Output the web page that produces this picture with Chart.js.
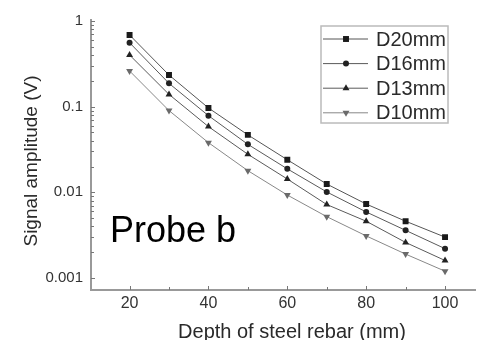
<!DOCTYPE html>
<html>
<head>
<meta charset="utf-8">
<script src="https://cdn.jsdelivr.net/npm/chart.js@4/dist/chart.umd.min.js"></script>
<style>
  html, body { margin: 0; padding: 0; background: #fff; }
  #wrap { width: 480px; height: 340px; position: relative; }
</style>
</head>
<body>
<div id="wrap"><canvas id="chart"></canvas></div>
<script>
const depths = [20, 30, 40, 50, 60, 70, 80, 90, 100];
const d20 = [0.687, 0.234, 0.0966, 0.0468, 0.024, 0.0125, 0.0073, 0.0046, 0.0030];
const d16 = [0.558, 0.187, 0.0785, 0.0363, 0.0188, 0.0101, 0.0059, 0.0036, 0.0022];
const d13 = [0.401, 0.139, 0.0585, 0.0278, 0.0143, 0.0072, 0.0046, 0.0026, 0.0016];
const d10 = [0.261, 0.090, 0.038, 0.0179, 0.0093, 0.0052, 0.0031, 0.0019, 0.0012];
const seriesNames = ['D20mm', 'D16mm', 'D13mm', 'D10mm'];
const xTicks = [20, 40, 60, 80, 100];
const xMinorTicks = [30, 50, 70, 90];
const yTicks = [1, 0.1, 0.01, 0.001];
const yTickLabels = ['1', '0.1', '0.01', '0.001'];

const FONT = '"Liberation Sans", Arial, sans-serif';

function pairs(vals) {
  return depths.map((d, i) => ({ x: d, y: vals[i] }));
}

function makeSet(label, vals, lineColor, markColor, style, radius, rotation) {
  return {
    label: label,
    data: pairs(vals),
    borderColor: lineColor,
    borderWidth: 1,
    backgroundColor: markColor,
    pointBackgroundColor: markColor,
    pointBorderColor: markColor,
    pointBorderWidth: 0,
    pointStyle: style,
    pointRadius: radius,
    pointRotation: rotation || 0,
    tension: 0,
  };
}

// inward ticks, titles, legend box and the probe label
const decorations = {
  id: 'decorations',
  afterDraw(chart) {
    const ctx = chart.ctx;
    const xs = chart.scales.x;
    const ys = chart.scales.y;
    const area = chart.chartArea;
    ctx.save();

    ctx.strokeStyle = '#777';
    ctx.lineWidth = 1;
    ctx.beginPath();
    xTicks.forEach(v => {
      const px = Math.round(xs.getPixelForValue(v)) + 0.5;
      ctx.moveTo(px, area.bottom);
      ctx.lineTo(px, area.bottom - 4);
    });
    xMinorTicks.forEach(v => {
      const px = Math.round(xs.getPixelForValue(v)) + 0.5;
      ctx.moveTo(px, area.bottom);
      ctx.lineTo(px, area.bottom - 3);
    });
    for (let dec = 0.001; dec < 1.5; dec *= 10) {
      for (let m = 1; m <= 9; m++) {
        const v = dec * m;
        if (v < ys.min || v > ys.max) continue;
        const py = Math.round(ys.getPixelForValue(v)) + 0.5;
        ctx.moveTo(area.left, py);
        ctx.lineTo(area.left + (m === 1 ? 4 : 3), py);
      }
    }
    ctx.stroke();

    ctx.fillStyle = '#2a2a2a';
    ctx.font = '20px ' + FONT;
    ctx.textAlign = 'center';
    ctx.textBaseline = 'alphabetic';
    ctx.fillText('Depth of steel rebar (mm)', 292, 338);

    ctx.save();
    ctx.translate(37, 161);
    ctx.rotate(-Math.PI / 2);
    ctx.font = '19px ' + FONT;
    ctx.fillText('Signal amplitude (V)', 0, 0);
    ctx.restore();

    ctx.fillStyle = '#000';
    ctx.font = '36px ' + FONT;
    ctx.textAlign = 'left';
    ctx.fillText('Probe b', 110, 242);

    // legend
    ctx.strokeStyle = '#bbb';
    ctx.lineWidth = 1.5;
    ctx.strokeRect(321, 26, 127, 97);
    chart.data.datasets.forEach((ds, i) => {
      const y = 39 + i * 24.6;
      ctx.strokeStyle = ds.borderColor;
      ctx.lineWidth = 1;
      ctx.beginPath();
      ctx.moveTo(323, y);
      ctx.lineTo(368, y);
      ctx.stroke();
      ctx.fillStyle = ds.pointBackgroundColor;
      Chart.helpers.drawPoint(ctx, {
        pointStyle: ds.pointStyle,
        radius: ds.pointRadius,
        rotation: ds.pointRotation,
        borderWidth: 0,
      }, 346, y);
      ctx.fillStyle = '#2a2a2a';
      ctx.font = '20px ' + FONT;
      ctx.textBaseline = 'middle';
      ctx.fillText(seriesNames[i], 376, y + 1);
      ctx.textBaseline = 'alphabetic';
    });

    ctx.restore();
  },
};

const ctx = document.getElementById('chart').getContext('2d');
const chart = new Chart(ctx, {
  type: 'line',
  data: {
    datasets: [
      makeSet(seriesNames[0], d20, '#555555', '#1a1a1a', 'rect', 4.2),
      makeSet(seriesNames[1], d16, '#5a5a5a', '#222222', 'circle', 3),
      makeSet(seriesNames[2], d13, '#5a5a5a', '#222222', 'triangle', 4),
      makeSet(seriesNames[3], d10, '#888888', '#6a6a6a', 'triangle', 4, 180),
    ],
  },
  options: {
    responsive: true,
    maintainAspectRatio: false,
    animation: false,
    devicePixelRatio: 1,
    layout: { padding: { top: 20, right: 0, left: 0, bottom: 0 } },
    plugins: {
      legend: { display: false },
      tooltip: { enabled: false },
    },
    scales: {
      x: {
        type: 'linear',
        min: 10.22,
        max: 107.8,
        grid: { display: false, drawTicks: false },
        border: { display: true, color: '#999', width: 2 },
        afterBuildTicks: scale => {
          scale.ticks = xTicks.map(v => ({ value: v }));
        },
        afterFit: scale => {
          scale.height = 50;
        },
        ticks: {
          padding: 4,
          color: '#333',
          font: { size: 16, family: FONT },
          maxRotation: 0,
          callback: v => String(v),
        },
      },
      y: {
        type: 'logarithmic',
        min: 0.000724,
        max: 1.027,
        grid: { display: false, drawTicks: false },
        border: { display: true, color: '#999', width: 2 },
        afterBuildTicks: scale => {
          scale.ticks = yTicks.map(v => ({ value: v }));
        },
        afterFit: scale => {
          scale.width = 91;
        },
        ticks: {
          padding: 8,
          color: '#333',
          font: { size: 15, family: FONT },
          callback: v => {
            const idx = yTicks.indexOf(v);
            return idx >= 0 ? yTickLabels[idx] : '';
          },
        },
      },
    },
  },
  plugins: [decorations],
});
</script>
</body>
</html>
